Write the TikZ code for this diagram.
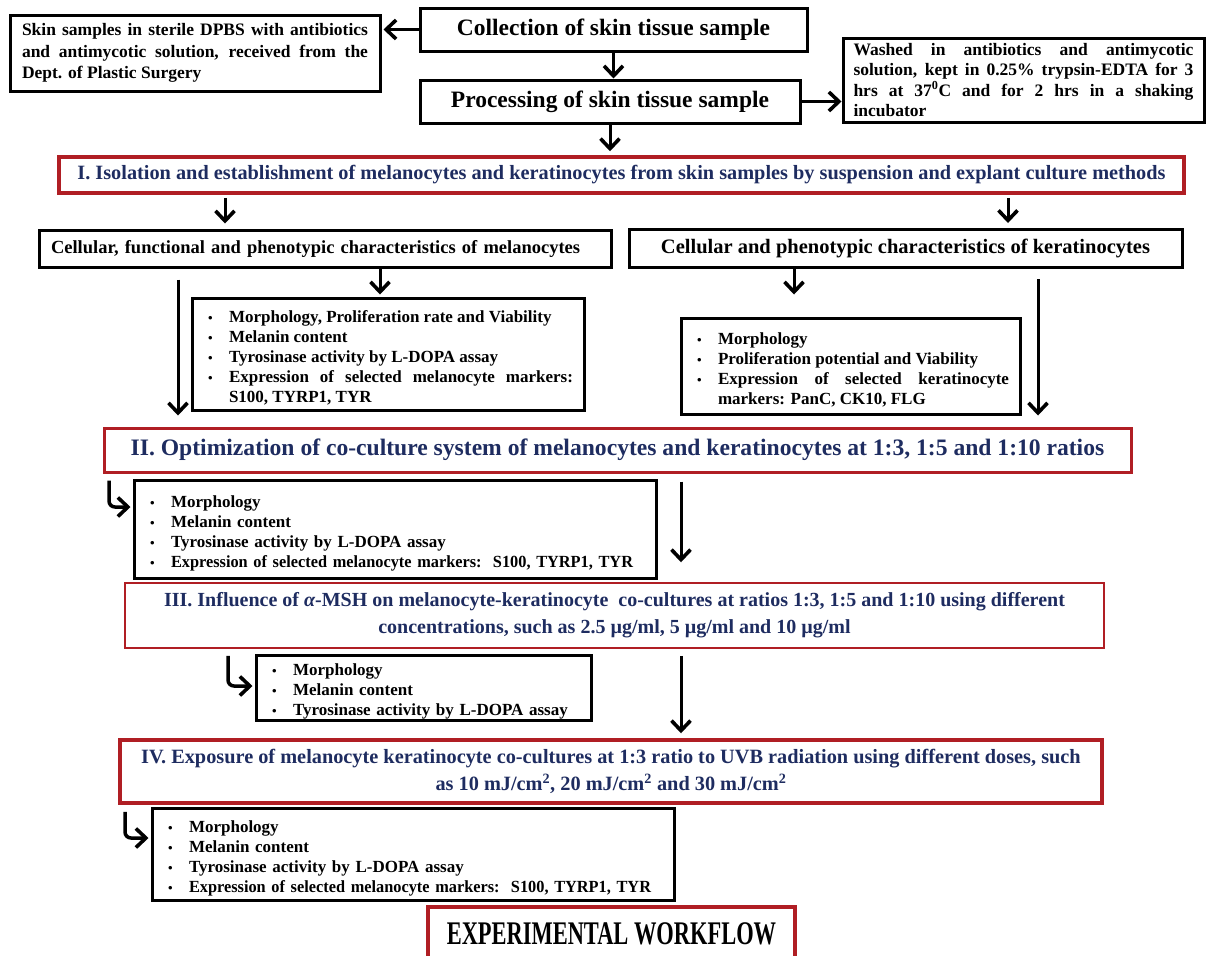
\documentclass[tikz,border=0pt]{standalone}
\usepackage{fontspec}
\setmainfont{Liberation Serif}
\newfontfamily\tightfont[FakeStretch=0.68]{Liberation Serif}
\newfontfamily\listfont[FakeStretch=0.96]{Liberation Serif}
\usetikzlibrary{arrows.meta}

\definecolor{boxred}{RGB}{176,30,36}
\definecolor{stepblue}{RGB}{30,44,96}

\newcommand{\fsz}[2]{\fontsize{#1}{#2}\selectfont}
\newcommand{\itm}{\par\noindent\hangindent=26pt\hangafter=1\makebox[26pt][l]{\hspace{5pt}{\fsz{13}{13}\textbullet}}}

\tikzset{
  blkbox/.style={draw=black, line width=3pt, inner sep=0pt, align=center},
  stepbox/.style={draw=boxred, line width=3pt, inner sep=0pt, align=center, text=stepblue},
  listbox/.style={draw=black, line width=3pt, inner sep=0pt, align=left, font=\bfseries\fsz{17}{20}},
  arr/.style={line width=3pt, -{Straight Barb[length=10pt,width=19pt,line width'=3.6pt]}},
}

\begin{document}
\begin{tikzpicture}[x=1pt,y=-1pt]
\useasboundingbox (0,0) rectangle (1208,956);
\clip (0,0) rectangle (1208,956);

% sample collection and processing
\node[blkbox, minimum width=370, minimum height=76, text width=346, align=justify, font=\bfseries\fsz{17.5}{21.5}] (skin) at (195,53)
  {Skin samples in sterile DPBS with antibiotics\linebreak and antimycotic solution, received from the\linebreak Dept. of Plastic Surgery};
\node[blkbox, minimum width=387, minimum height=43, font=\bfseries\fsz{23.5}{27}] (collect) at (613.5,29.5) {Collection of skin tissue sample};
\node[blkbox, minimum width=380, minimum height=43, font=\bfseries\fsz{23.5}{27}] (process) at (610,101.5) {Processing of skin tissue sample};
\node[blkbox, minimum width=361, minimum height=84, text width=340, align=justify, font=\bfseries\fsz{17.5}{20.5}] (washed) at (1023.5,80)
  {Washed in antibiotics and antimycotic\linebreak solution, kept in 0.25\% trypsin-EDTA for 3\linebreak hrs at 37\textsuperscript{0}C and for 2 hrs in a shaking\linebreak incubator};

% step I
\node[stepbox, line width=3.5pt, minimum width=1125, minimum height=36, font=\bfseries\fsz{20.3}{24}] (isol) at (621.5,175)
  {I. Isolation and establishment of melanocytes and keratinocytes from skin samples by suspension and explant culture methods};
\node[blkbox, minimum width=572, minimum height=37, text width=548, align=left, font=\bfseries\fsz{18.5}{22}] (mel) at (325,248.5)
  {Cellular, functional and phenotypic characteristics of melanocytes};
\node[blkbox, minimum width=553, minimum height=38, font=\bfseries\fsz{20.5}{24}] (ker) at (905.5,248.5)
  {Cellular and phenotypic characteristics of keratinocytes};
\node[listbox, minimum width=392, minimum height=112, text width=370, align=justify] (melb) at (388,354)
  {\itm Morphology, Proliferation rate and Viability
   \itm Melanin content
   \itm Tyrosinase activity by L-DOPA assay
   \itm Expression of selected melanocyte markers:\linebreak S100, TYRP1, TYR\par};
\node[listbox, minimum width=339, minimum height=96, text width=317, align=justify] (kerb) at (850.5,366)
  {\itm Morphology
   \itm Proliferation potential and Viability
   \itm Expression of selected keratinocyte\linebreak markers: PanC, CK10, FLG\par};

% step II
\node[stepbox, minimum width=1027, minimum height=44, font=\bfseries\fsz{23.6}{27}] (optim) at (617.5,450)
  {II. Optimization of co-culture system of melanocytes and keratinocytes at 1:3, 1:5 and 1:10 ratios};
\node[listbox, minimum width=522, minimum height=98, text width=500] (optimb) at (395,529)
  {\itm Morphology
   \itm Melanin content
   \itm Tyrosinase activity by L-DOPA assay
   \itm {\listfont Expression of selected melanocyte markers:\ \ S100, TYRP1, TYR}\par};

% step III
\node[stepbox, line width=1.5pt, minimum width=979, minimum height=65, font=\bfseries\fsz{20}{27}] (alpha) at (614.5,615.5)
  {III. Influence of {\itshape α}-MSH on melanocyte-keratinocyte\ \ co-cultures at ratios 1:3, 1:5 and 1:10 using different\\
   concentrations, such as 2.5 µg/ml, 5 µg/ml and 10 µg/ml};
\node[listbox, minimum width=335, minimum height=65, text width=313] (alphab) at (423.5,687.5)
  {\itm Morphology
   \itm Melanin content
   \itm Tyrosinase activity by L-DOPA assay\par};

% step IV
\node[stepbox, line width=3.5pt, minimum width=982, minimum height=63, font=\bfseries\fsz{20.3}{27}] (uvb) at (611,771.5)
  {IV. Exposure of melanocyte keratinocyte co-cultures at 1:3 ratio to UVB radiation using different doses, such\\
   as 10 mJ/cm\textsuperscript{2}, 20 mJ/cm\textsuperscript{2} and 30 mJ/cm\textsuperscript{2}};
\node[listbox, minimum width=522, minimum height=92, text width=500] (uvbb) at (413,854)
  {\itm Morphology
   \itm Melanin content
   \itm Tyrosinase activity by L-DOPA assay
   \itm {\listfont Expression of selected melanocyte markers:\ \ S100, TYRP1, TYR}\par};

\node[stepbox, line width=3.5pt, text=black, minimum width=367, minimum height=54, font=\bfseries\tightfont\fsz{33}{36}] (flow) at (611.5,934)
  {EXPERIMENTAL WORKFLOW};

% bends of the hooked arrows
\coordinate (bendII) at (109,507);
\coordinate (bendIII) at (228,686);
\coordinate (bendIV) at (125,838);

% connectors
\draw[arr, shorten >=2pt] (collect.west) -- (collect.west -| skin.east);
\draw[arr] (collect.south) -- (collect.south |- process.north);
\draw[arr] (process.east) -- (process.east -| washed.west);
\draw[arr, shorten >=4pt] (process.south) -- (process.south |- isol.north);
\draw[arr, shorten <=3pt, shorten >=5pt] (225,0 |- isol.south) -- (225,0 |- mel.north);
\draw[arr, shorten <=3pt, shorten >=5pt] (1008,0 |- isol.south) -- (1008,0 |- ker.north);
\draw[arr, shorten >=2pt] (380,0 |- mel.south) -- (380,0 |- melb.north);
\draw[arr, shorten <=11pt, shorten >=11pt] (178,0 |- mel.south) -- (178,0 |- optim.north);
\draw[arr, shorten >=22pt] (794,0 |- ker.south) -- (794,0 |- kerb.north);
\draw[arr, shorten <=10pt, shorten >=11pt] (1038,0 |- ker.south) -- (1038,0 |- optim.north);
\draw[arr, line width=3.5pt, rounded corners=6pt, shorten <=7pt, shorten >=2pt] (optim.south -| bendII) -- (bendII) -- (bendII -| optimb.west);
\draw[arr, shorten <=8pt, shorten >=20pt] (681,0 |- optim.south) -- (681,0 |- alpha.north);
\draw[arr, line width=3.5pt, rounded corners=6pt, shorten <=7pt, shorten >=2pt] (alpha.south -| bendIII) -- (bendIII) -- (bendIII -| alphab.west);
\draw[arr, shorten <=7pt, shorten >=5pt] (681,0 |- alpha.south) -- (681,0 |- uvb.north);
\draw[arr, line width=3.5pt, rounded corners=6pt, shorten <=7pt, shorten >=2pt] (uvb.south -| bendIV) -- (bendIV) -- (bendIV -| uvbb.west);
\end{tikzpicture}
\end{document}
